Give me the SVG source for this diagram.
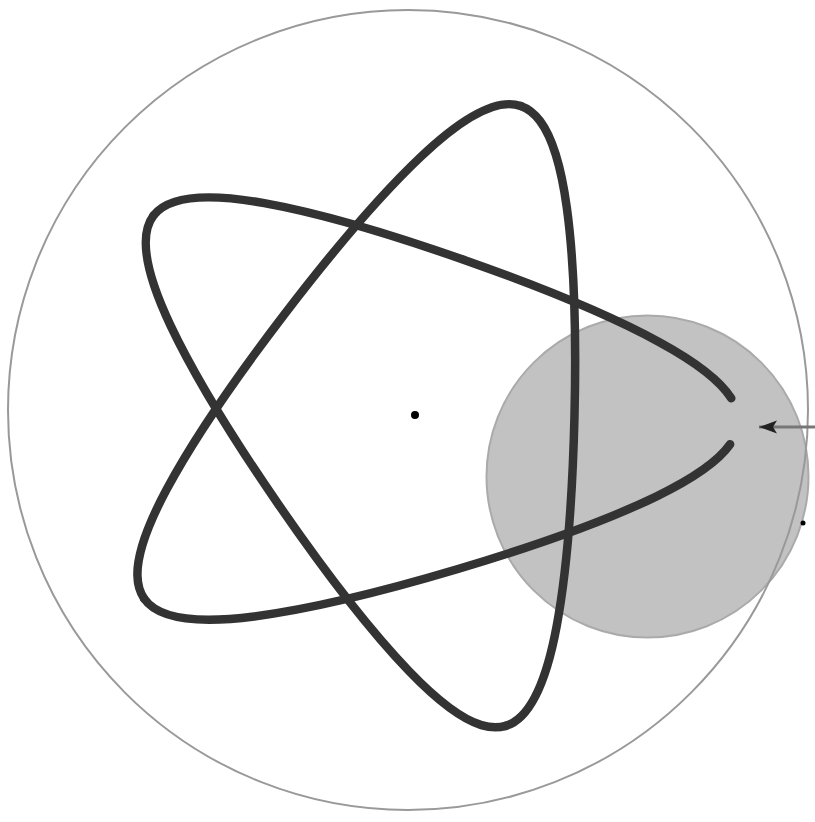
<svg xmlns="http://www.w3.org/2000/svg" width="815" height="822" viewBox="0 0 815 822">
<style>
.curve{fill:none;stroke:#333;stroke-width:8.5;stroke-linecap:round;stroke-linejoin:round}
</style>
<defs>
<path id="p" d="M326,0 C326,7.66 323.41,15.33 318.30,23.03 C306.52,40.79 281.09,58.80 245.60,77.08 C194.72,103.28 123.16,130.32 50.06,154.07 C-23.04,177.82 -96.83,198.01 -153.39,206.72 C-209.95,215.43 -248.84,212.12 -263.74,191.62"/>
<path id="m" d="M318.30,23.03 C306.52,40.79 281.09,58.80 245.60,77.08 C194.72,103.28 123.16,130.32 50.06,154.07 C-23.04,177.82 -96.83,198.01 -153.39,206.72 C-209.95,215.43 -248.84,212.12 -263.74,191.62"/>
<marker id="ah" viewBox="0 0 18 14" refX="18" refY="7" markerWidth="18" markerHeight="14" orient="auto" markerUnits="userSpaceOnUse">
<path d="M18,7 L0,0.5 L4,7 L0,13.5 Z" fill="#222"/>
</marker>
</defs>
<rect width="815" height="822" fill="#fff"/>
<circle id="disk" cx="647.5" cy="476.5" r="161" fill="#c2c2c2" stroke="#aaa" stroke-width="2"/>
<circle id="outer" cx="408" cy="410" r="400" fill="none" stroke="#999" stroke-width="2"/>
<g id="star" class="curve" transform="translate(412.5,413.5) rotate(1.4)">
<use href="#m"/>
<use href="#p" transform="rotate(144)"/>
<use href="#p" transform="rotate(288)"/>
<use href="#p" transform="rotate(72)"/>
<use href="#m" transform="scale(1,-1)"/>
</g>
<circle id="center" cx="415" cy="415" r="4" fill="#000"/>
<circle id="dot" cx="803" cy="523" r="2.5" fill="#000"/>
<g id="connectors">
<line x1="815" y1="427" x2="759" y2="427" stroke="#777" stroke-width="3" marker-end="url(#ah)"/>
</g>
</svg>
